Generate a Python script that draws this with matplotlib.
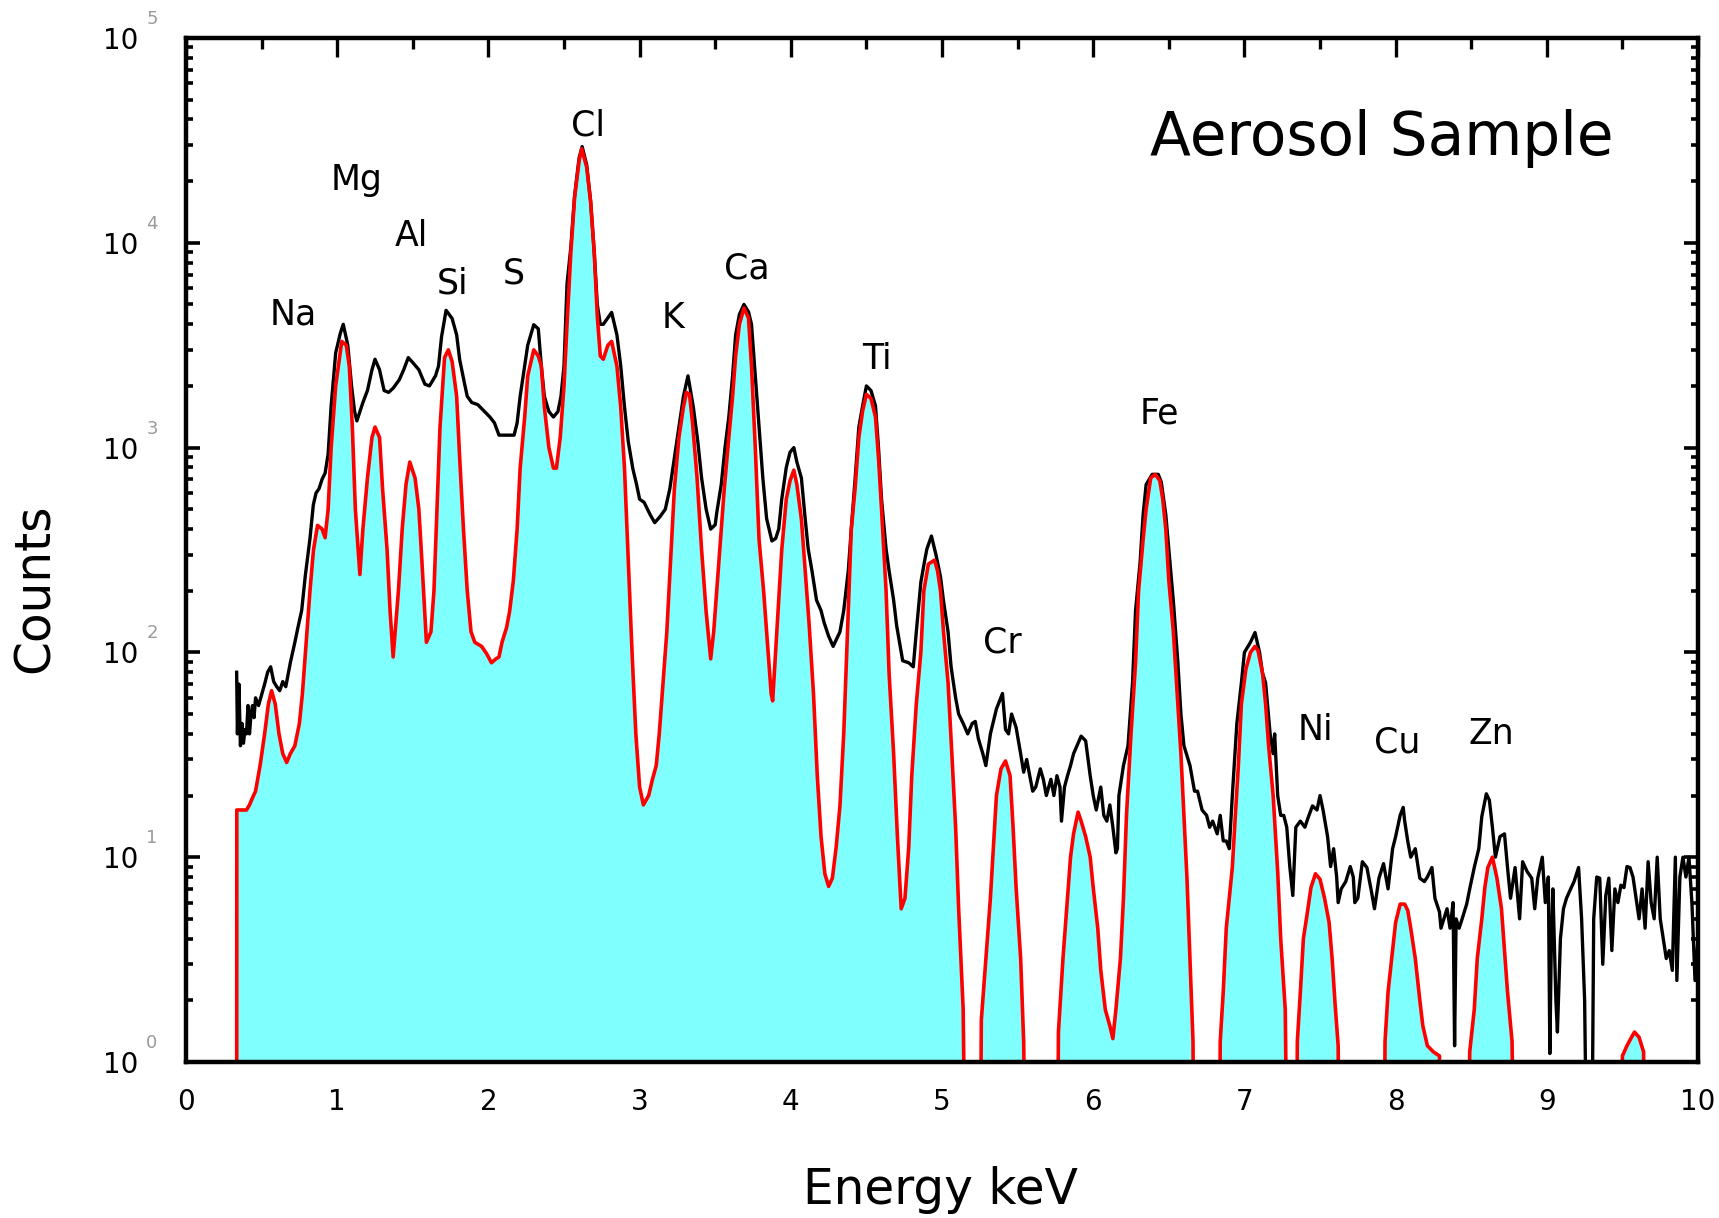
import numpy as np
import matplotlib
matplotlib.use('Agg')
import matplotlib.pyplot as plt
from matplotlib.ticker import MultipleLocator, LogLocator, NullFormatter

# fitted spectrum (red outline, cyan fill); 0.1 = below the axis floor
fit_kev = [0.335, 0.336, 0.40, 0.42, 0.44, 0.46, 0.49, 0.52, 0.545, 0.566, 0.59, 0.615, 0.64, 0.666,
           0.69, 0.72, 0.75, 0.77, 0.79, 0.82, 0.843, 0.87, 0.90, 0.92, 0.94, 0.96, 0.99, 1.03, 1.06,
           1.08, 1.10, 1.12, 1.15, 1.17, 1.20, 1.23, 1.25, 1.28, 1.30, 1.33, 1.35, 1.37, 1.405, 1.43,
           1.455, 1.48, 1.515, 1.54, 1.56, 1.59, 1.62, 1.64, 1.66, 1.68, 1.71, 1.735, 1.76, 1.79, 1.81,
           1.835, 1.86, 1.885, 1.91, 1.955, 1.99, 2.02, 2.05, 2.07, 2.09, 2.12, 2.14, 2.165, 2.19, 2.21,
           2.24, 2.26, 2.30, 2.33, 2.35, 2.37, 2.40, 2.43, 2.45, 2.475, 2.50, 2.52, 2.545, 2.57, 2.60,
           2.617, 2.65, 2.676, 2.70, 2.72, 2.74, 2.76, 2.79, 2.815, 2.85, 2.875, 2.90, 2.925, 2.95,
           2.975, 3.00, 3.025, 3.06, 3.085, 3.11, 3.13, 3.15, 3.18, 3.205, 3.23, 3.26, 3.29, 3.31, 3.33,
           3.35, 3.38, 3.41, 3.44, 3.47, 3.49, 3.51, 3.535, 3.56, 3.59, 3.615, 3.635, 3.66, 3.69, 3.72,
           3.74, 3.765, 3.79, 3.82, 3.84, 3.87, 3.88, 3.895, 3.92, 3.94, 3.97, 3.995, 4.02, 4.04, 4.07,
           4.095, 4.12, 4.15, 4.175, 4.20, 4.225, 4.25, 4.275, 4.30, 4.325, 4.35, 4.37, 4.39, 4.40,
           4.425, 4.45, 4.475, 4.50, 4.53, 4.56, 4.58, 4.60, 4.63, 4.65, 4.68, 4.705, 4.73, 4.755, 4.78,
           4.80, 4.83, 4.86, 4.88, 4.91, 4.95, 4.97, 4.99, 5.01, 5.04, 5.065, 5.09, 5.11, 5.14, 5.16,
           5.25, 5.26, 5.29, 5.32, 5.34, 5.36, 5.39, 5.42, 5.45, 5.47, 5.49, 5.52, 5.54, 5.56, 5.76,
           5.77, 5.80, 5.83, 5.85, 5.87, 5.90, 5.92, 5.95, 5.98, 6.00, 6.03, 6.05, 6.08, 6.11, 6.13,
           6.15, 6.18, 6.20, 6.22, 6.25, 6.28, 6.30, 6.33, 6.35, 6.38, 6.41, 6.44, 6.46, 6.48, 6.50,
           6.53, 6.56, 6.58, 6.60, 6.62, 6.64, 6.66, 6.67, 6.83, 6.84, 6.86, 6.88, 6.92, 6.94, 6.96,
           6.98, 7.01, 7.04, 7.07, 7.09, 7.12, 7.14, 7.16, 7.19, 7.22, 7.24, 7.27, 7.29, 7.34, 7.35,
           7.37, 7.39, 7.42, 7.44, 7.47, 7.50, 7.53, 7.56, 7.58, 7.60, 7.62, 7.63, 7.92, 7.93, 7.95,
           7.98, 8.00, 8.03, 8.06, 8.08, 8.10, 8.13, 8.16, 8.18, 8.21, 8.25, 8.29, 8.30, 8.48, 8.49,
           8.52, 8.54, 8.57, 8.59, 8.61, 8.64, 8.67, 8.70, 8.72, 8.74, 8.77, 8.79, 9.49, 9.50, 9.53,
           9.56, 9.58, 9.61, 9.64, 9.65, 10.0]
fit_counts = [0.1, 17, 17, 18, 19.5, 21, 28, 40, 56, 65, 56, 40, 32, 29,
              32, 35, 45, 63, 100, 200, 316, 417, 400, 363, 500, 1000, 2000, 3300, 3160,
              2500, 1260, 500, 240, 400, 710, 1120, 1260, 1120, 630, 316, 158, 95, 200, 400,
              660, 850, 710, 500, 280, 112, 126, 200, 500, 1260, 2750, 3000, 2630, 1780, 890,
              400, 200, 126, 112, 107, 98, 89, 93, 95, 112, 132, 158, 224, 400, 794,
              1410, 2240, 3000, 2800, 2500, 1580, 1000, 794, 794, 1120, 2000, 4000, 8900, 16600, 25100,
              28800, 23400, 15800, 8900, 4400, 2800, 2700, 3160, 3300, 2500, 1580, 794, 280, 100,
              40, 22, 18, 20, 24, 28, 40, 63, 126, 280, 630, 1120, 1580, 1860, 1820,
              1320, 710, 316, 158, 93, 126, 200, 355, 630, 1120, 1780, 2800, 4000, 4800, 4300,
              2500, 1000, 355, 200, 126, 63, 58, 89, 178, 316, 560, 690, 776, 660, 447,
              251, 141, 63, 25, 12.6, 8.3, 7.2, 7.9, 11.2, 17.8, 40, 100, 251, 400,
              630, 1120, 1510, 1820, 1740, 1410, 890, 500, 200, 79, 32, 12.6, 5.6, 6.3, 11.2,
              25, 56, 100, 200, 270, 282, 251, 200, 126, 71, 32, 14, 5.6, 1.8, 0.1,
              0.1, 1.6, 3.2, 6.3, 11.2, 20, 27, 29.5, 25, 14, 7.1, 3.2, 1.26, 0.1, 0.1,
              1.4, 3.2, 6.3, 10, 13, 16.6, 15, 12.6, 10, 7.1, 4.5, 2.8, 1.8, 1.5, 1.3,
              1.8, 3.2, 6.3, 16, 40, 89, 200, 355, 500, 710, 740, 690, 560, 400, 224,
              126, 56, 32, 16, 7.9, 3.2, 1.26, 0.1, 0.1, 1.26, 2.2, 4.5, 8.9, 16, 28,
              56, 83, 100, 107, 102, 79, 56, 35, 20, 8.5, 4.0, 1.8, 0.1, 0.1, 1.26,
              2.2, 4.0, 5.6, 7.1, 8.3, 7.8, 6.3, 4.8, 3.2, 1.9, 1.2, 0.1, 0.1, 1.26, 2.2,
              3.5, 4.8, 5.9, 5.9, 5.5, 4.5, 3.2, 2.0, 1.5, 1.2, 1.12, 1.07, 0.1, 0.1, 1.12,
              1.8, 3.2, 5.0, 7.1, 8.9, 10, 7.9, 5.6, 3.5, 2.2, 1.26, 0.1, 0.1, 1.07, 1.2,
              1.32, 1.4, 1.32, 1.12, 0.1, 0.1]

# measured spectrum (black line)
meas_kev = [0.335, 0.34, 0.35, 0.36, 0.37, 0.38, 0.39, 0.40, 0.41, 0.42, 0.43, 0.44, 0.45, 0.46,
            0.48, 0.50, 0.52, 0.54, 0.56, 0.58, 0.60, 0.62, 0.64, 0.66, 0.69, 0.72, 0.74, 0.765,
            0.79, 0.82, 0.842, 0.86, 0.88, 0.90, 0.92, 0.94, 0.96, 0.99, 1.02, 1.04, 1.07, 1.095,
            1.115, 1.13, 1.15, 1.17, 1.20, 1.23, 1.25, 1.28, 1.31, 1.34, 1.37, 1.41, 1.44, 1.47,
            1.50, 1.54, 1.58, 1.61, 1.65, 1.67, 1.69, 1.72, 1.76, 1.79, 1.81, 1.84, 1.86, 1.89,
            1.93, 1.97, 2.01, 2.04, 2.07, 2.12, 2.17, 2.19, 2.21, 2.24, 2.26, 2.30, 2.33, 2.35,
            2.37, 2.40, 2.43, 2.46, 2.48, 2.50, 2.52, 2.545, 2.57, 2.60, 2.62, 2.65, 2.676, 2.70,
            2.72, 2.74, 2.76, 2.79, 2.815, 2.85, 2.875, 2.90, 2.925, 2.955, 2.98, 3.00, 3.03, 3.07,
            3.10, 3.135, 3.17, 3.20, 3.23, 3.26, 3.29, 3.32, 3.355, 3.385, 3.41, 3.44, 3.47, 3.50,
            3.51, 3.54, 3.565, 3.59, 3.615, 3.635, 3.66, 3.69, 3.72, 3.74, 3.765, 3.79, 3.815, 3.84,
            3.875, 3.90, 3.92, 3.94, 3.97, 3.995, 4.02, 4.04, 4.07, 4.095, 4.115, 4.14, 4.17, 4.20,
            4.22, 4.25, 4.28, 4.30, 4.325, 4.35, 4.38, 4.40, 4.425, 4.45, 4.475, 4.50, 4.53, 4.56,
            4.58, 4.60, 4.63, 4.65, 4.68, 4.70, 4.74, 4.78, 4.81, 4.83, 4.86, 4.885, 4.90, 4.93,
            4.96, 4.99, 5.01, 5.04, 5.06, 5.09, 5.11, 5.14, 5.17, 5.20, 5.22, 5.24, 5.27, 5.29,
            5.32, 5.34, 5.36, 5.40, 5.42, 5.44, 5.46, 5.49, 5.52, 5.54, 5.56, 5.58, 5.60, 5.62,
            5.65, 5.67, 5.69, 5.72, 5.74, 5.76, 5.78, 5.79, 5.81, 5.83, 5.85, 5.87, 5.90, 5.92,
            5.95, 5.98, 6.00, 6.02, 6.05, 6.07, 6.09, 6.11, 6.13, 6.15, 6.16, 6.17, 6.20, 6.23,
            6.26, 6.28, 6.31, 6.33, 6.35, 6.39, 6.43, 6.45, 6.48, 6.50, 6.53, 6.56, 6.58, 6.60,
            6.64, 6.67, 6.69, 6.72, 6.75, 6.77, 6.79, 6.82, 6.84, 6.86, 6.88, 6.90, 6.92, 6.95,
            6.98, 7.00, 7.04, 7.07, 7.10, 7.12, 7.14, 7.17, 7.19, 7.20, 7.22, 7.24, 7.26, 7.28,
            7.30, 7.32, 7.34, 7.37, 7.40, 7.42, 7.45, 7.48, 7.50, 7.52, 7.55, 7.57, 7.59, 7.61,
            7.62, 7.64, 7.67, 7.70, 7.72, 7.73, 7.75, 7.78, 7.81, 7.84, 7.86, 7.89, 7.92, 7.95,
            7.98, 8.00, 8.03, 8.05, 8.06, 8.08, 8.10, 8.13, 8.16, 8.19, 8.21, 8.24, 8.26, 8.29,
            8.30, 8.34, 8.36, 8.38, 8.39, 8.40, 8.42, 8.44, 8.47, 8.49, 8.52, 8.55, 8.57, 8.60,
            8.62, 8.64, 8.66, 8.69, 8.72, 8.74, 8.76, 8.79, 8.82, 8.84, 8.87, 8.90, 8.92, 8.94,
            8.97, 8.99, 9.01, 9.02, 9.03, 9.04, 9.06, 9.07, 9.09, 9.11, 9.13, 9.15, 9.18, 9.21,
            9.23, 9.25, 9.26, 9.30, 9.31, 9.33, 9.35, 9.37, 9.39, 9.41, 9.43, 9.45, 9.47, 9.49,
            9.51, 9.53, 9.55, 9.57, 9.59, 9.61, 9.63, 9.65, 9.67, 9.69, 9.71, 9.73, 9.75, 9.77,
            9.79, 9.81, 9.83, 9.85, 9.86, 9.88, 9.90, 9.92, 9.94, 9.96, 9.98, 10.0]
meas_counts = [80, 40, 70, 35, 45, 36, 42, 40, 55, 40, 50, 55, 48, 60,
               55, 62, 70, 80, 85, 72, 68, 65, 72, 68, 89, 112, 132, 160,
               240, 360, 525, 600, 630, 700, 750, 930, 1600, 2900, 3600, 4000, 3160, 2000,
               1500, 1350, 1500, 1660, 1900, 2400, 2700, 2400, 1900, 1860, 1950, 2140, 2400, 2750,
               2600, 2400, 2040, 2000, 2240, 2500, 3470, 4680, 4270, 3550, 2690, 2090, 1780, 1660,
               1620, 1510, 1410, 1320, 1150, 1150, 1150, 1320, 1780, 2510, 3160, 3980, 3800, 2500,
               1780, 1500, 1410, 1500, 1780, 2510, 6300, 9500, 17000, 26000, 29500, 24000, 16000, 9000,
               5000, 4000, 4000, 4300, 4570, 3550, 2510, 1580, 1070, 790, 660, 560, 540, 470,
               430, 460, 500, 630, 890, 1260, 1780, 2240, 1580, 1070, 710, 500, 400, 420,
               480, 660, 1000, 1410, 2240, 3550, 4470, 5000, 4600, 4000, 2240, 1260, 710, 450,
               350, 360, 400, 560, 800, 950, 1000, 850, 710, 450, 320, 250, 180, 160,
               140, 120, 107, 115, 126, 160, 250, 400, 700, 1260, 1600, 2000, 1900, 1600,
               1000, 560, 320, 250, 180, 135, 91, 89, 85, 126, 220, 280, 320, 370,
               300, 234, 178, 126, 85, 60, 50, 45, 40, 45, 46, 38, 32, 28,
               40, 46, 53, 63, 42, 40, 50, 43, 32, 26, 30, 25, 21, 22,
               27, 24, 20, 24, 20, 25, 22, 15, 22, 25, 28, 32, 36, 39,
               37, 25, 20, 17, 22, 16, 15, 18, 14, 10.5, 11, 20, 28, 35,
               71, 160, 275, 470, 660, 740, 740, 680, 470, 320, 178, 89, 50, 35,
               28, 21, 21, 17, 16, 14, 15, 13, 16, 12, 12, 11, 20, 45,
               71, 100, 112, 125, 100, 79, 71, 40, 32, 40, 20, 16, 16, 14,
               9, 6.5, 14, 15, 14, 15.5, 17.8, 17, 20, 17, 12.6, 9, 11, 8,
               6, 7, 7.6, 9, 8, 6, 6.3, 9.5, 8.9, 6.8, 5.6, 7.9, 9.3, 7,
               11, 12.6, 16, 17.5, 15, 12, 10, 11, 7.9, 7.6, 8, 8.9, 6.3, 5.4,
               4.5, 5.6, 4.5, 6, 1.2, 5, 4.5, 5, 5.9, 7, 8.9, 11, 15.8, 20.4,
               19, 14, 10, 12.6, 13, 8.9, 6.3, 8.9, 5, 9.5, 8.5, 7.9, 5.6, 7.9,
               10, 6, 8, 1.1, 4, 7, 2, 1.4, 4, 5.6, 6.3, 6.8, 7.6, 8.9,
               5, 2, 0.5, 0.5, 5, 8, 7.9, 3, 6.5, 7.9, 3.5, 7, 6, 7.3,
               7.1, 9, 8.9, 8, 6.3, 5, 7, 4.5, 9.5, 6, 5, 10, 5, 4,
               3.2, 3.5, 2.8, 10, 2.5, 8, 10, 8, 10, 5.9, 2.5, 4]

peak_names = ['Na', 'Mg', 'Al', 'Si', 'S', 'Cl', 'K', 'Ca', 'Ti', 'Cr', 'Fe', 'Ni', 'Cu', 'Zn']
# label anchors (keV, counts)
peak_label_kev = [0.71, 1.13, 1.49, 1.76, 2.17, 2.66, 3.22, 3.71, 4.57, 5.40, 6.435, 7.47, 8.01, 8.63]
peak_label_counts = [4490, 20300, 10800, 6300, 7100, 37200, 4300, 7450, 2700, 112, 1460, 42, 36.5, 40]

x_ticks = list(range(0, 11))
y_ticks = [1, 10, 100, 1000, 10000, 100000]

fig = plt.figure(figsize=(17.19, 12.18), dpi=100)
ax = fig.add_axes([0.1082, 0.1281, 0.8796, 0.8407])

ax.fill_between(fit_kev, fit_counts, 1e-3, color='#80ffff', linewidth=0, zorder=1)
ax.plot(meas_kev, meas_counts, color='black', linewidth=2.4, zorder=2)
ax.plot(fit_kev, fit_counts, color='#ff0000', linewidth=2.6, zorder=3)

ax.set_yscale('log')
ax.set_xlim(0, 10)
ax.set_ylim(1, 1e5)

for name, ex, cy in zip(peak_names, peak_label_kev, peak_label_counts):
    ax.text(ex, cy, name, ha='center', va='center', fontsize=25, zorder=4)

ax.text(0.6376, 0.886, 'Aerosol Sample', transform=ax.transAxes, ha='left',
        va='baseline', fontsize=43)

# ticks: inward, y on both sides, x only on top
ax.set_xticks(x_ticks)
ax.set_xticklabels([str(t) for t in x_ticks])
ax.xaxis.set_minor_locator(MultipleLocator(0.5))
ax.set_yticks(y_ticks)
ax.set_yticklabels(['10'] * len(y_ticks))
ax.yaxis.set_minor_locator(LogLocator(base=10, subs=np.arange(2, 10)))
ax.yaxis.set_minor_formatter(NullFormatter())

ax.tick_params(axis='x', which='both', direction='in', bottom=False, top=True,
               labelbottom=True, labelsize=20, pad=19)
ax.tick_params(axis='x', which='major', length=14, width=2.4)
ax.tick_params(axis='x', which='minor', length=8, width=2.4)
ax.tick_params(axis='y', which='both', direction='in', left=True, right=True,
               labelsize=20, pad=34)
ax.tick_params(axis='y', which='major', length=10, width=2.6)
ax.tick_params(axis='y', which='minor', length=5, width=2.6)

for sp in ax.spines.values():
    sp.set_linewidth(3.2)
    sp.set_zorder(5)

# grey exponents beside the "10" labels
for k, t in enumerate(y_ticks):
    ax.annotate(str(k), xy=(0, t), xycoords=('axes fraction', 'data'),
                xytext=(-34, 19), textcoords='offset pixels', ha='center',
                va='center', fontsize=13, color='#9a9a9a', annotation_clip=False)

fig.text(0.0204, 0.5172, 'Counts', rotation=90, ha='center', va='center', fontsize=35)
fig.text(0.547, 0.023, 'Energy keV', ha='center', va='center', fontsize=35)

plt.savefig('out.png', dpi=100)
plt.close()
